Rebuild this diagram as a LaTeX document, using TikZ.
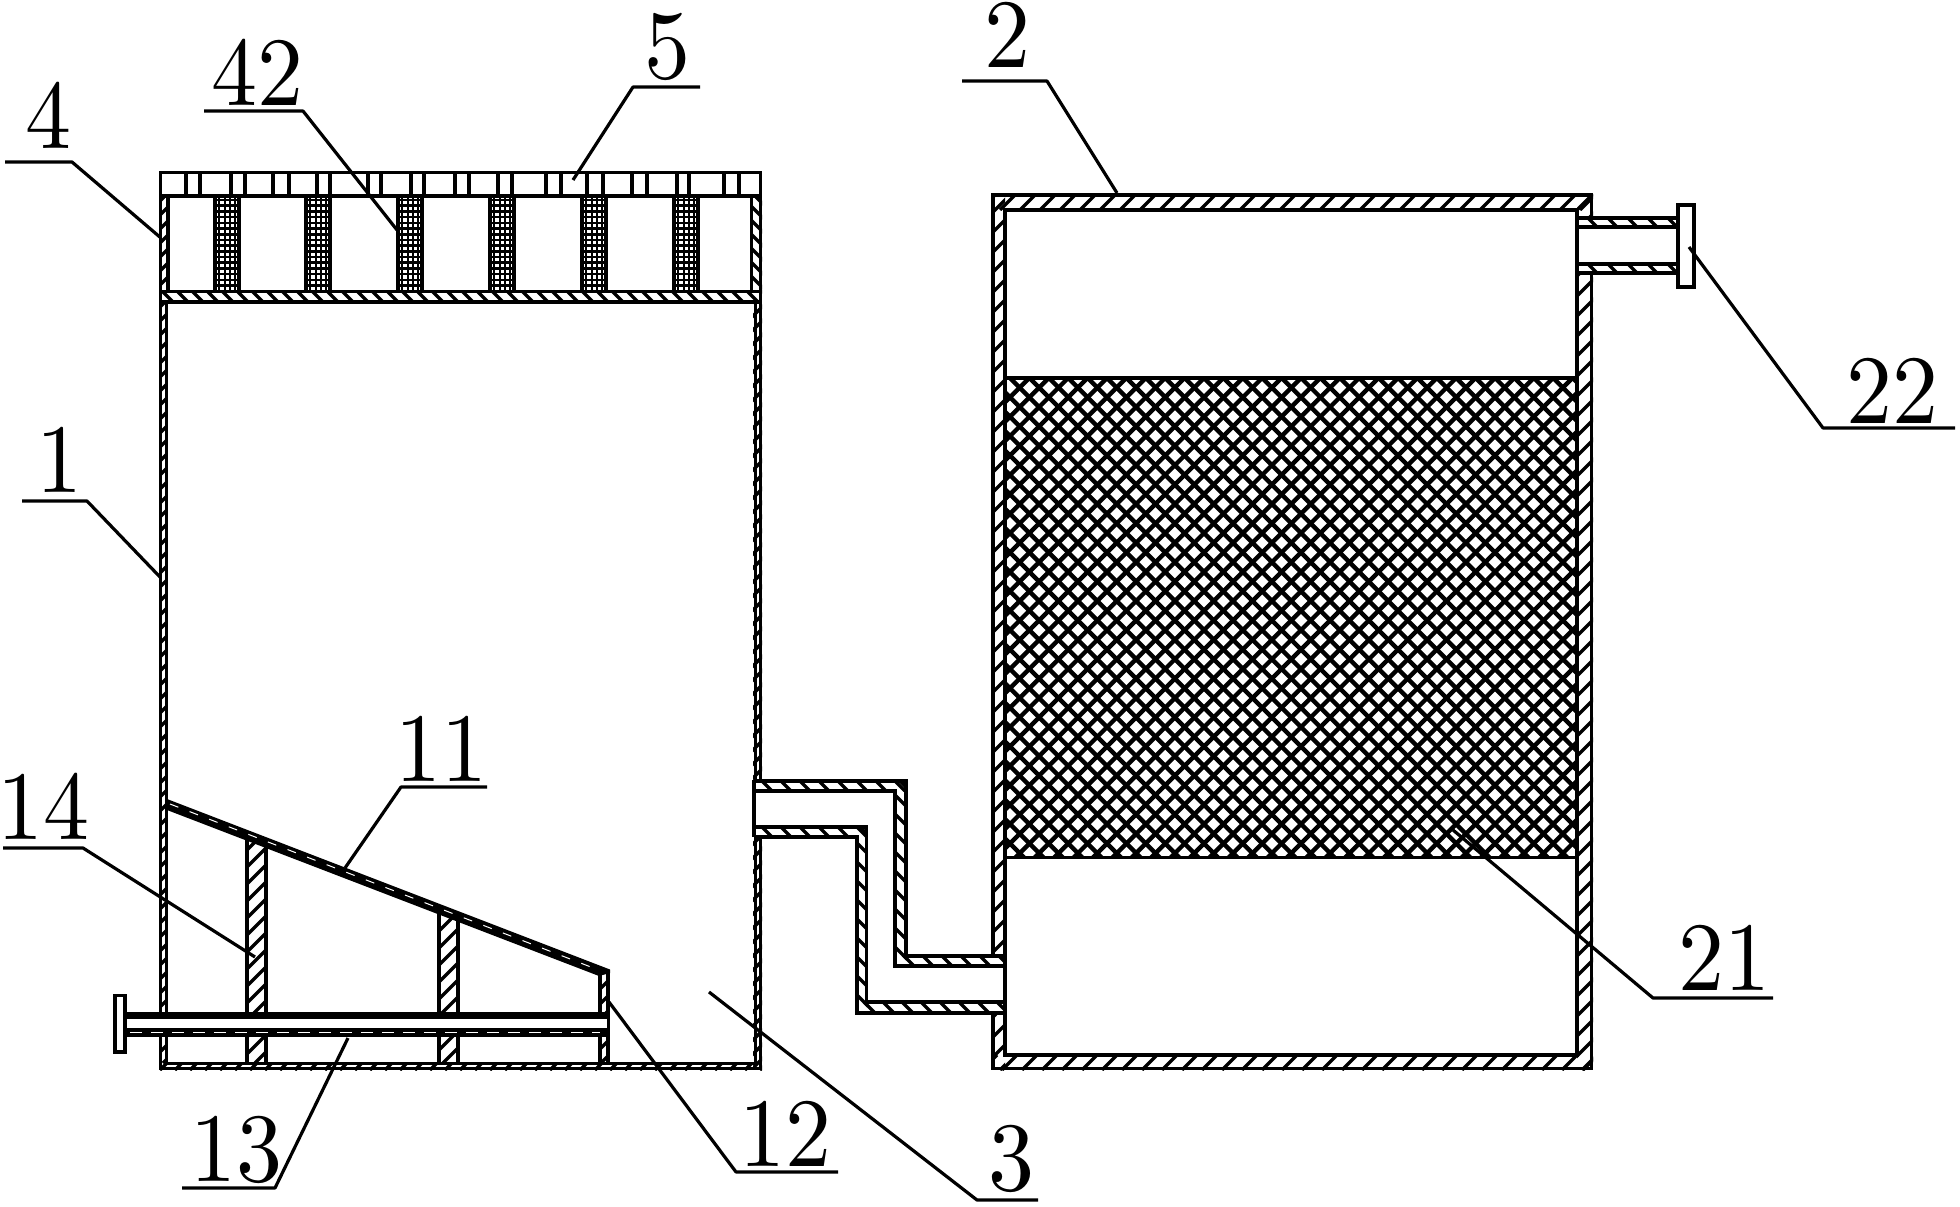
\documentclass[tikz,border=0pt]{standalone}
\usetikzlibrary{calc}
\tikzset{
wall/.style = {line width=3.5pt, line join=miter},
thin wall/.style = {line width=3pt},
hatch/.style = {line width=3.4pt},
lead/.style = {line width=3.2pt, line join=round},
label/.style = {font=\fontsize{10}{10}\selectfont, anchor=base, xscale=9.2, yscale=9.8, inner sep=0pt}
}
% hatch lines in a clipped rectangle: x1, y1, x2, y2, direction (1 or -1), step
\newcommand{\hatchrect}[6]{
	\begin{scope}
		\clip (#1,#2) rectangle (#3,#4);
		\pgfmathsetmacro{\hgt}{#4-#2}
		\pgfmathsetmacro{\cstart}{#1-\hgt-#6}
		\pgfmathsetmacro{\cnext}{\cstart+#6}
		\pgfmathsetmacro{\cend}{#3+\hgt+#6}
		\foreach \c in {\cstart,\cnext,...,\cend}
			\draw[hatch] (\c,#2) -- ++({#5*\hgt},\hgt);
	\end{scope}
}

\begin{document}
\begin{tikzpicture}[x=1pt, y=-1pt]
	\useasboundingbox (0,0) rectangle (1960,1207);

	% left tank, hatching
	\hatchrect{159}{303}{167}{1012}{-1}{14}
	\hatchrect{159}{1037}{167}{1063}{-1}{14}
	\hatchrect{159}{197}{169}{290}{-1}{14}
	\hatchrect{751}{197}{762}{290}{1}{14}
	\hatchrect{753}{303}{762}{780}{-1}{14}
	\hatchrect{753}{837}{762}{1068}{-1}{14}
	\hatchrect{159}{1063}{762}{1070}{-1}{15}
	\hatchrect{159}{290}{762}{303}{1}{15}

	% left tank, outlines
	\draw[wall] (160.5,172.5) rectangle (760.5,196);
	\draw[thin wall] (160.5,196) -- (160.5,1012) (160.5,1037) -- (160.5,1068.5) -- (760.5,1068.5) -- (760.5,837);
	\draw[thin wall] (760.5,780) -- (760.5,172.5);
	\draw[thin wall] (166,303) -- (166,1012) (166,1037) -- (166,1063) -- (755,1063) -- (755,837);
	\draw[thin wall] (755,780) -- (755,303);
	\draw[wall] (160.5,291.5) -- (762,291.5) (160.5,302) -- (762,302);
	\draw[wall] (168,196) -- (168,290) (751.5,196) -- (751.5,290);

	% lid bars
	\foreach \lx in {186,200,231,245,273,289,317,330,368,381,411,424,455,469,498,512,546,561,587,603,632,647,677,689,724,739}
		\draw[wall] (\lx,172.5) -- (\lx,196);

	% filter columns
	\foreach \cx in {215,306,398,490,582,674}{
		\foreach \gx in {4,10,15,20}
			\draw[line width=2.6pt] (\cx+\gx,197) -- (\cx+\gx,290);
		\foreach \gy in {200,205.7,...,290}
			\draw[line width=2.6pt] (\cx,\gy) -- (\cx+24,\gy);
		\draw[line width=4pt] (\cx,196) -- (\cx,290) (\cx+24,196) -- (\cx+24,290);
	}

	% supports
	\hatchrect{246}{838}{267}{1063}{-1}{17}
	\hatchrect{439}{912}{459}{1063}{-1}{17}
	\hatchrect{599}{974}{609}{1063}{-1}{15}
	\draw[wall] (247,838) -- (247,1063) (266,846) -- (266,1063);
	\draw[wall] (439,912) -- (439,1063) (458,920) -- (458,1063);
	\draw[wall] (600,974) -- (600,1063) (608,971) -- (608,1063);

	% sloping plate
	\fill (167,799) -- (610,969.5) -- (610,973) -- (599,976) -- (167,810) -- cycle;
	\draw[white, line width=1pt, dash pattern=on 9pt off 12pt] (170,804) -- (596,969);

	% drain pipe
	\fill[white] (126,1012) rectangle (606.5,1037);
	\fill (126,1012) rectangle (606.5,1018.5);
	\fill (126,1028) rectangle (606.5,1037);
	\draw[white, line width=0.9pt, dash pattern=on 12pt off 9pt] (130,1032) -- (600,1032);
	\draw[wall] (115,995.5) rectangle (125,1052);

	% connecting pipe
	\hatchrect{753}{780}{906}{791}{1}{19}
	\hatchrect{895}{780}{906}{966}{1}{19}
	\hatchrect{895}{955}{1005}{966}{1}{19}
	\hatchrect{753}{826}{867}{837}{1}{19}
	\hatchrect{857}{826}{867}{1014}{1}{19}
	\hatchrect{857}{1002}{1005}{1014}{1}{19}
	\draw[wall] (754,781) -- (906,781) -- (906,956) -- (1005,956);
	\draw[wall] (754,791) -- (895,791) -- (895,966) -- (1005,966);
	\draw[wall] (754,827) -- (866.5,827) -- (866.5,1002) -- (1005,1002);
	\draw[wall] (754,837) -- (857,837) -- (857,1013) -- (1005,1013);
	\draw[wall] (754,780) -- (754,837);

	% mesh
	\begin{scope}
		\clip (1005,377) rectangle (1577,858);
		\foreach \m in {1407.3,1426.7,...,2480}
			\draw[line width=4.4pt] (\m,0) -- ++(-1000,1000);
		\foreach \m in {-124.5,-105.1,...,1240}
			\draw[line width=4.4pt] (\m,0) -- ++(1000,1000);
	\end{scope}
	\draw[wall] (1005,378) -- (1577,378) (1005,857.5) -- (1577,857.5);

	% right tank
	\hatchrect{992}{194}{1593}{210}{-1}{20}
	\hatchrect{992}{1055}{1593}{1070}{-1}{20}
	\hatchrect{992}{194}{1005}{955}{-1}{20}
	\hatchrect{992}{1014}{1005}{1070}{-1}{20}
	\hatchrect{1577}{194}{1593}{218}{-1}{20}
	\hatchrect{1577}{273}{1593}{1070}{-1}{20}
	\draw[wall] (993,955) -- (993,195) -- (1591.5,195) -- (1591.5,218);
	\draw[wall] (1591.5,273) -- (1591.5,1068.5) -- (993,1068.5) -- (993,1014);
	\draw[wall] (1005,210) rectangle (1577,1055);

	% outlet pipe
	\hatchrect{1577}{218}{1678}{227}{1}{20}
	\hatchrect{1577}{264}{1678}{273}{1}{20}
	\draw[wall] (1577,218) -- (1678,218) (1577,227) -- (1678,227);
	\draw[wall] (1577,264) -- (1678,264) (1577,273) -- (1678,273);
	\draw[wall] (1678,205) rectangle (1694,287);

	% labels
	\node[label] (lab4) at (48,148) {4};
	\node[label] (lab42) at (257,106) {42};
	\node[label] (lab5) at (667,78) {5};
	\node[label] (lab1) at (59,492) {1};
	\node[label] (lab2) at (1007,68) {2};
	\node[label] (lab22) at (1892,423) {22};
	\node[label] (lab21) at (1724,990) {21};
	\node[label] (lab3) at (1011,1190) {3};
	\node[label] (lab12) at (785,1166) {12};
	\node[label] (lab13) at (236,1181) {13};
	\node[label] (lab14) at (44,839) {14};
	\node[label] (lab11) at (441,781) {11};

	% leaders
	\draw[lead] (5,162) -- (72,162) -- (161,238);
	\draw[lead] (204,111) -- (303,111) -- (397,230);
	\draw[lead] (700,87) -- (633,87) -- (573,180);
	\draw[lead] (22,501) -- (87,501) -- (160,577);
	\draw[lead] (962,81) -- (1047,81) -- (1117,193);
	\draw[lead] (1955,428) -- (1823,428) -- (1689,247);
	\draw[lead] (1773,998) -- (1653,998) -- (1453,830);
	\draw[lead] (1038,1200) -- (977,1200) -- (709,992);
	\draw[lead] (838,1172) -- (736,1172) -- (609,1002);
	\draw[lead] (182,1188) -- (275,1188) -- (348,1038);
	\draw[lead] (3,848) -- (83,848) -- (255,957);
	\draw[lead] (487,787) -- (401,787) -- (345,868);

\end{tikzpicture}
\end{document}
